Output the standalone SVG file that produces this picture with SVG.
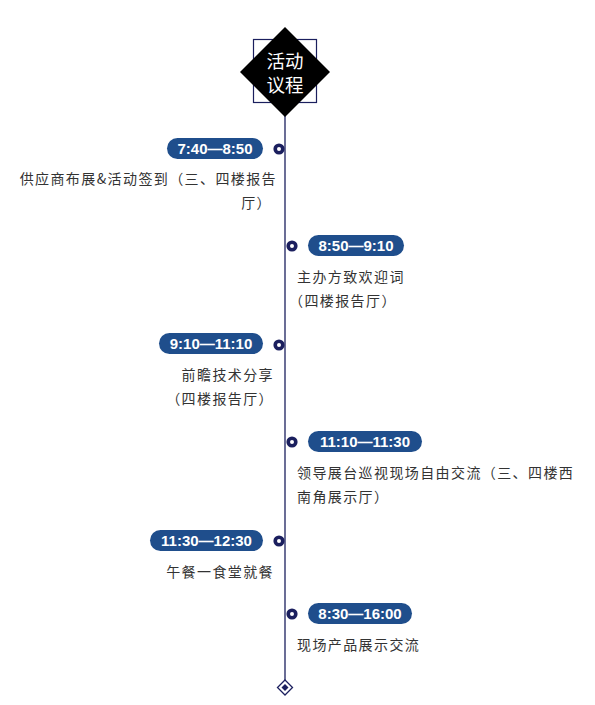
<svg xmlns="http://www.w3.org/2000/svg" width="595" height="705" viewBox="0 0 595 705">
<style>
.pill{fill:#1f4e8c}
.pt{fill:#fff;font-family:"Liberation Sans","Noto Sans CJK SC",sans-serif;font-size:15px;font-weight:bold;text-anchor:middle;dominant-baseline:central}
.tx{fill:#333;font-family:"Noto Sans CJK SC","Noto Sans CJK JP",sans-serif;font-size:14px;letter-spacing:1.4px;dominant-baseline:central}
.r{text-anchor:end}
.dot{fill:#fff;stroke:#1b1f5e;stroke-width:3.6}
.ht{fill:#fff;font-family:"Noto Sans CJK SC",sans-serif;font-size:18.5px;text-anchor:middle;dominant-baseline:central}
</style>
<rect width="595" height="705" fill="#fff"/>
<g id="connectors">
<line x1="285" y1="110" x2="285" y2="680" stroke="#1b1f5e" stroke-width="1.3"/>
</g>
<g id="header">
<rect x="253.5" y="39.5" width="63" height="63" fill="none" stroke="#1b1f5e" stroke-width="1.2"/>
<polygon points="285,27 330,72 285,117 240,72" fill="#000"/>
<text class="ht" x="285" y="60">活动</text>
<text class="ht" x="285" y="84">议程</text>
</g>
<g id="item1">
<circle class="dot" cx="279" cy="149" r="3.8"/>
<rect class="pill" x="167" y="138" width="96" height="21" rx="10.5"/>
<text class="pt" x="215" y="148.5">7:40—8:50</text>
<text class="tx r" x="277" y="178">供应商布展&amp;活动签到（三、四楼报告</text>
<text class="tx r" x="272" y="202">厅）</text>
</g>
<g id="item2">
<circle class="dot" cx="292" cy="246" r="3.8"/>
<rect class="pill" x="308" y="235" width="96" height="21" rx="10.5"/>
<text class="pt" x="356" y="245.5">8:50—9:10</text>
<text class="tx" x="297" y="276">主办方致欢迎词</text>
<text class="tx" x="289" y="300">（四楼报告厅）</text>
</g>
<g id="item3">
<circle class="dot" cx="279" cy="345" r="3.8"/>
<rect class="pill" x="159" y="333" width="104" height="21" rx="10.5"/>
<text class="pt" x="211" y="343.5">9:10—11:10</text>
<text class="tx r" x="274" y="374">前瞻技术分享</text>
<text class="tx r" x="274" y="398">（四楼报告厅）</text>
</g>
<g id="item4">
<circle class="dot" cx="292" cy="442" r="3.8"/>
<rect class="pill" x="308" y="431" width="114" height="21" rx="10.5"/>
<text class="pt" x="365" y="441.5">11:10—11:30</text>
<text class="tx" x="297" y="472">领导展台巡视现场自由交流（三、四楼西</text>
<text class="tx" x="297" y="496">南角展示厅）</text>
</g>
<g id="item5">
<circle class="dot" cx="279" cy="541" r="3.8"/>
<rect class="pill" x="150" y="530" width="113" height="21" rx="10.5"/>
<text class="pt" x="206.5" y="540.5">11:30—12:30</text>
<text class="tx r" x="274" y="571">午餐一食堂就餐</text>
</g>
<g id="item6">
<circle class="dot" cx="292" cy="614" r="3.8"/>
<rect class="pill" x="308" y="603" width="104" height="21" rx="10.5"/>
<text class="pt" x="360" y="613.5">8:30—16:00</text>
<text class="tx" x="297" y="644">现场产品展示交流</text>
</g>
<g id="end">
<polygon points="285,680 292.5,687.5 285,695 277.5,687.5" fill="#fff" stroke="#1b1f5e" stroke-width="1.3"/>
<polygon points="285,684 288.5,687.5 285,691 281.5,687.5" fill="#1b1f5e"/>
</g>
</svg>
